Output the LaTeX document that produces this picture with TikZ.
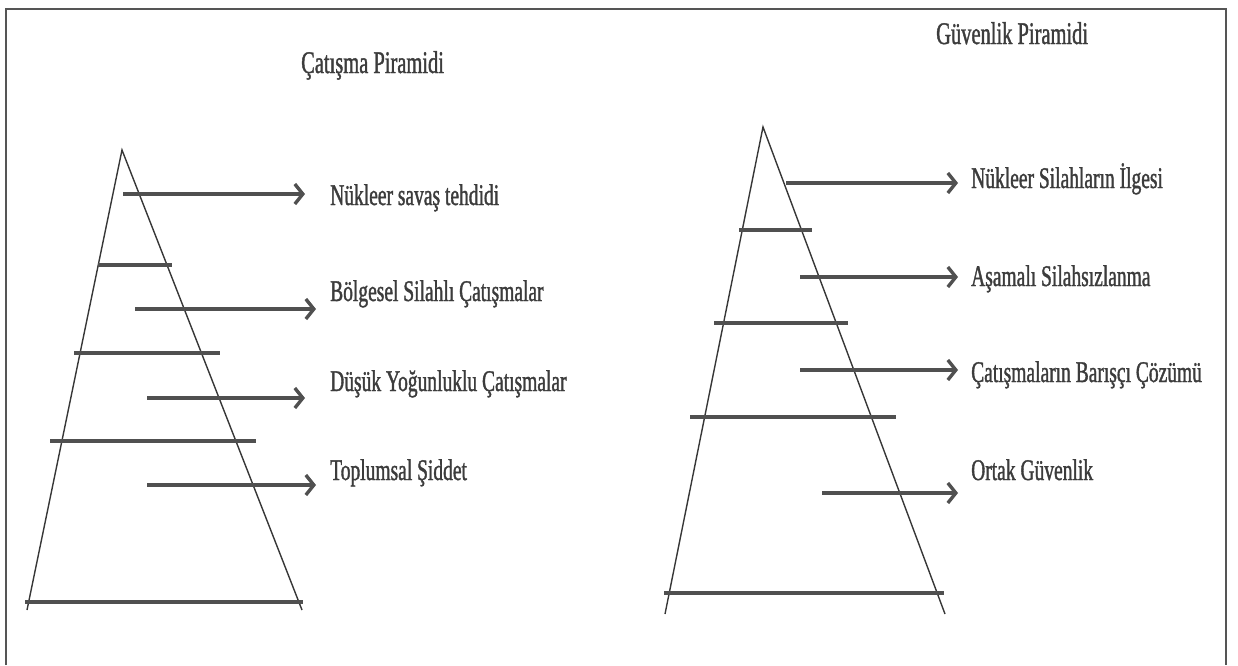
\documentclass[tikz,border=0pt]{standalone}
\usepackage{fontspec}
\setmainfont{Liberation Serif}[FakeStretch=0.65,FakeBold=1.2]
\usetikzlibrary{arrows.meta}
\definecolor{ink}{RGB}{55,55,55}
\definecolor{txt}{RGB}{60,60,60}
\definecolor{barc}{RGB}{80,80,80}
\definecolor{framec}{RGB}{85,85,85}
\tikzset{
  frameline/.style={draw=framec, line width=2.5pt},
  side/.style={draw=ink, line width=1.4pt},
  bar/.style={draw=barc, line width=3.4pt},
  arr/.style={draw=barc, line width=3.4pt, -{Straight Barb[length=8pt,width=20pt]}},
  lab/.style={text=txt, inner sep=0pt, anchor=base west, font=\fontsize{30}{33}\selectfont},
  ttl/.style={text=txt, inner sep=0pt, anchor=base west, font=\fontsize{31.5}{34}\selectfont}
}
\begin{document}
\begin{tikzpicture}[x=1pt, y=-1pt]
\useasboundingbox (0,0) rectangle (1238,665);
% frame
\coordinate (fbl) at (6,665);
\coordinate (ftl) at (6,9);
\coordinate (ftr) at (1226,9);
\coordinate (fbr) at (1226,665);
\draw[frameline] (fbl) -- (ftl) -- (ftr) -- (fbr);

% ---------- left pyramid ----------
\node[ttl] (t1) at (301,73) {Çatışma Piramidi};
\coordinate (la) at (122,150);
\coordinate (lbl) at (27,610);
\coordinate (lbr) at (302,610);
\draw[side] (lbl) -- (la) -- (lbr);
\coordinate (lb1a) at (98,265);  \coordinate (lb1b) at (172,265);
\coordinate (lb2a) at (74,353);  \coordinate (lb2b) at (220,353);
\coordinate (lb3a) at (50,441);  \coordinate (lb3b) at (256,441);
\coordinate (lb4a) at (25,602);  \coordinate (lb4b) at (303,602);
\draw[bar] (lb1a) -- (lb1b);
\draw[bar] (lb2a) -- (lb2b);
\draw[bar] (lb3a) -- (lb3b);
\draw[bar] (lb4a) -- (lb4b);

\node[lab] (l1) at (330,205) {Nükleer savaş tehdidi};
\node[lab] (l2) at (330,301) {Bölgesel Silahlı Çatışmalar};
\node[lab] (l3) at (330,391) {Düşük Yoğunluklu Çatışmalar};
\node[lab] (l4) at (330,480) {Toplumsal Şiddet};
\coordinate (ls1) at (123,194); \coordinate (le1) at (305,194);
\coordinate (ls2) at (135,309); \coordinate (le2) at (316,309);
\coordinate (ls3) at (147,398); \coordinate (le3) at (305,398);
\coordinate (ls4) at (147,485); \coordinate (le4) at (316,485);
\draw[arr] (ls1) -- (le1);
\draw[arr] (ls2) -- (le2);
\draw[arr] (ls3) -- (le3);
\draw[arr] (ls4) -- (le4);

% ---------- right pyramid ----------
\node[ttl] (t2) at (936,44) {Güvenlik Piramidi};
\coordinate (ra) at (763,127);
\coordinate (rbl) at (665,614);
\coordinate (rbr) at (945,614);
\draw[side] (rbl) -- (ra) -- (rbr);
\coordinate (rb1a) at (739,230); \coordinate (rb1b) at (812,230);
\coordinate (rb2a) at (714,323); \coordinate (rb2b) at (848,323);
\coordinate (rb3a) at (690,417); \coordinate (rb3b) at (896,417);
\coordinate (rb4a) at (664,593); \coordinate (rb4b) at (944,593);
\draw[bar] (rb1a) -- (rb1b);
\draw[bar] (rb2a) -- (rb2b);
\draw[bar] (rb3a) -- (rb3b);
\draw[bar] (rb4a) -- (rb4b);

\node[lab] (r1) at (971,188) {Nükleer Silahların İlgesi};
\node[lab] (r2) at (971,286) {Aşamalı Silahsızlanma};
\node[lab] (r3) at (971,382) {Çatışmaların Barışçı Çözümü};
\node[lab] (r4) at (971,480) {Ortak Güvenlik};
\coordinate (rs1) at (786,183); \coordinate (re1) at (958,183);
\coordinate (rs2) at (800,277); \coordinate (re2) at (958,277);
\coordinate (rs3) at (800,370); \coordinate (re3) at (958,370);
\coordinate (rs4) at (822,493); \coordinate (re4) at (958,493);
\draw[arr] (rs1) -- (re1);
\draw[arr] (rs2) -- (re2);
\draw[arr] (rs3) -- (re3);
\draw[arr] (rs4) -- (re4);
\end{tikzpicture}
\end{document}
